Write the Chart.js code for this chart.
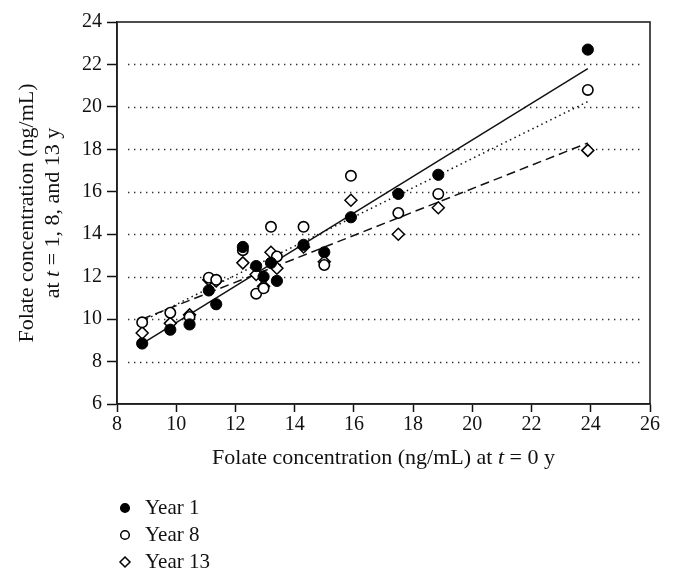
<!DOCTYPE html>
<html>
<head>
<meta charset="utf-8">
<script src="https://cdn.jsdelivr.net/npm/chart.js@4/dist/chart.umd.min.js"></script>
<style>
  body { margin: 0; background: #fff; }
  #wrap { width: 674px; height: 585px; position: relative; }
</style>
</head>
<body>
<div id="wrap"><canvas id="folateChart"></canvas></div>
<script>
// Folate at t = 0 (one value per subject)
const baseline = [8.85, 9.8, 10.45, 11.1, 11.35, 12.25, 12.7, 12.95, 13.2, 13.4, 14.3, 15.0, 15.9, 17.5, 18.85, 23.9];
// Folate at follow-up years
const year1  = [8.85, 9.5, 9.75, 11.35, 10.7, 13.4, 12.5, 12.0, 12.65, 11.8, 13.5, 13.15, 14.8, 15.9, 16.8, 22.7];
const year8  = [9.85, 10.3, 10.1, 11.95, 11.85, 13.25, 11.2, 11.45, 14.35, 12.95, 14.35, 12.55, 16.75, 15.0, 15.9, 20.8];
const year13 = [9.35, 9.8, 10.2, 11.85, 11.8, 12.65, 12.1, 11.55, 13.15, 12.4, 13.4, 12.7, 15.6, 14.0, 15.25, 17.95];

// Regression line end points
const fitX   = [8.85, 23.9];
const fit1   = [8.85, 21.8];
const fit8   = [9.9, 20.25];
const fit13  = [10.0, 18.3];

const xTicks = [8, 10, 12, 14, 16, 18, 20, 22, 24, 26];
const yTicks = [6, 8, 10, 12, 14, 16, 18, 20, 22, 24];

const serif = "'Liberation Serif', 'DejaVu Serif', serif";

const pts = (xs, ys) => xs.map((x, i) => ({ x: x, y: ys[i] }));

// dotted horizontal guide lines, slightly inset from the frame
const gridPlugin = {
  id: "dottedGrid",
  beforeDatasetsDraw(chart) {
    const { ctx, chartArea, scales } = chart;
    ctx.save();
    ctx.strokeStyle = "#333";
    ctx.lineWidth = 1.4;
    ctx.setLineDash([1.4, 4.6]);
    yTicks.slice(1, -1).forEach((v) => {
      const y = Math.round(scales.y.getPixelForValue(v)) + 0.5;
      ctx.beginPath();
      ctx.moveTo(chartArea.left + 11, y);
      ctx.lineTo(chartArea.right - 6, y);
      ctx.stroke();
    });
    ctx.restore();
  },
};

// frame, axis titles (with italic t) and the legend below the plot
const decorPlugin = {
  id: "decor",
  afterDraw(chart) {
    const { ctx, chartArea } = chart;
    ctx.save();
    ctx.strokeStyle = "#222";
    ctx.lineWidth = 1.6;
    ctx.strokeRect(chartArea.left, chartArea.top, chartArea.right - chartArea.left, chartArea.bottom - chartArea.top);

    const normal = "22px " + serif;
    const italic = "italic 22px " + serif;
    const drawParts = (parts, cx, cy) => {
      let total = 0;
      parts.forEach((p) => { ctx.font = p[1]; total += ctx.measureText(p[0]).width; });
      let x = cx - total / 2;
      parts.forEach((p) => {
        ctx.font = p[1];
        ctx.fillText(p[0], x, cy);
        x += ctx.measureText(p[0]).width;
      });
    };
    ctx.fillStyle = "#111";
    ctx.textBaseline = "middle";
    ctx.textAlign = "left";

    // x title
    const cx = (chartArea.left + chartArea.right) / 2;
    drawParts([["Folate concentration (ng/mL) at ", normal], ["t", italic], [" = 0 y", normal]], cx, 458);

    // y title, two lines
    const cy = (chartArea.top + chartArea.bottom) / 2;
    ctx.save();
    ctx.translate(27, cy);
    ctx.rotate(-Math.PI / 2);
    drawParts([["Folate concentration (ng/mL)", normal]], 0, 0);
    ctx.restore();
    ctx.save();
    ctx.translate(53, cy);
    ctx.rotate(-Math.PI / 2);
    drawParts([["at ", normal], ["t", italic], [" = 1, 8, and 13 y", normal]], 0, 0);
    ctx.restore();

    // legend
    const rows = [508, 535, 562];
    chart.data.datasets.filter((d) => d.inLegend).forEach((d, i) => {
      const y = rows[i];
      ctx.fillStyle = d.backgroundColor;
      ctx.strokeStyle = "#000";
      ctx.lineWidth = 1.5;
      ctx.beginPath();
      if (d.pointStyle === "rectRot") {
        ctx.moveTo(125, y - 5); ctx.lineTo(130, y);
        ctx.lineTo(125, y + 5); ctx.lineTo(120, y); ctx.closePath();
      } else {
        ctx.arc(125, y, 4.3, 0, Math.PI * 2);
      }
      ctx.fill();
      ctx.stroke();
      ctx.fillStyle = "#111";
      ctx.font = "21px " + serif;
      ctx.fillText(d.label, 145, y);
    });
    ctx.restore();
  },
};

const lineSet = (label, ys, dash, order) => ({
  type: "line",
  label: label,
  data: pts(fitX, ys),
  borderColor: "#111",
  borderWidth: 1.5,
  borderDash: dash,
  pointRadius: 0,
  fill: false,
  order: order,
});

new Chart(document.getElementById("folateChart"), {
  type: "scatter",
  data: {
    datasets: [
      {
        label: "Year 1", data: pts(baseline, year1), inLegend: true,
        pointStyle: "circle", pointRadius: 5.6, borderWidth: 1,
        backgroundColor: "#000", borderColor: "#000", order: 0,
      },
      {
        label: "Year 8", data: pts(baseline, year8), inLegend: true,
        pointStyle: "circle", pointRadius: 5.2, borderWidth: 1.6,
        backgroundColor: "#fff", borderColor: "#000", order: 1,
      },
      {
        label: "Year 13", data: pts(baseline, year13), inLegend: true,
        pointStyle: "rectRot", pointRadius: 6, borderWidth: 1.5,
        backgroundColor: "#fff", borderColor: "#000", order: 2,
      },
      lineSet("Fit year 1", fit1, [], 3),
      lineSet("Fit year 8", fit8, [1.5, 3.5], 4),
      lineSet("Fit year 13", fit13, [9, 5], 5),
    ],
  },
  options: {
    responsive: true,
    maintainAspectRatio: false,
    animation: false,
    layout: { padding: { top: 22, right: 24, left: 0, bottom: 0 } },
    plugins: { legend: { display: false }, tooltip: { enabled: false } },
    scales: {
      x: {
        type: "linear",
        min: 8, max: 26,
        afterBuildTicks: (s) => { s.ticks = xTicks.map((v) => ({ value: v })); },
        afterFit: (s) => { s.height = 181; },
        ticks: { color: "#111", font: { family: serif, size: 20 }, padding: 1 },
        grid: { drawOnChartArea: false, drawTicks: true, tickLength: 8, tickColor: "#111", tickWidth: 1.5 },
        border: { color: "#111", width: 1.6 },
      },
      y: {
        type: "linear",
        min: 6, max: 24,
        afterBuildTicks: (s) => { s.ticks = yTicks.map((v) => ({ value: v })); },
        afterFit: (s) => { s.width = 117; },
        ticks: { color: "#111", font: { family: serif, size: 20 }, padding: 5 },
        grid: { drawOnChartArea: false, drawTicks: true, tickLength: 10, tickColor: "#111", tickWidth: 1.5 },
        border: { color: "#111", width: 1.6 },
      },
    },
  },
  plugins: [gridPlugin, decorPlugin],
});
</script>
</body>
</html>
